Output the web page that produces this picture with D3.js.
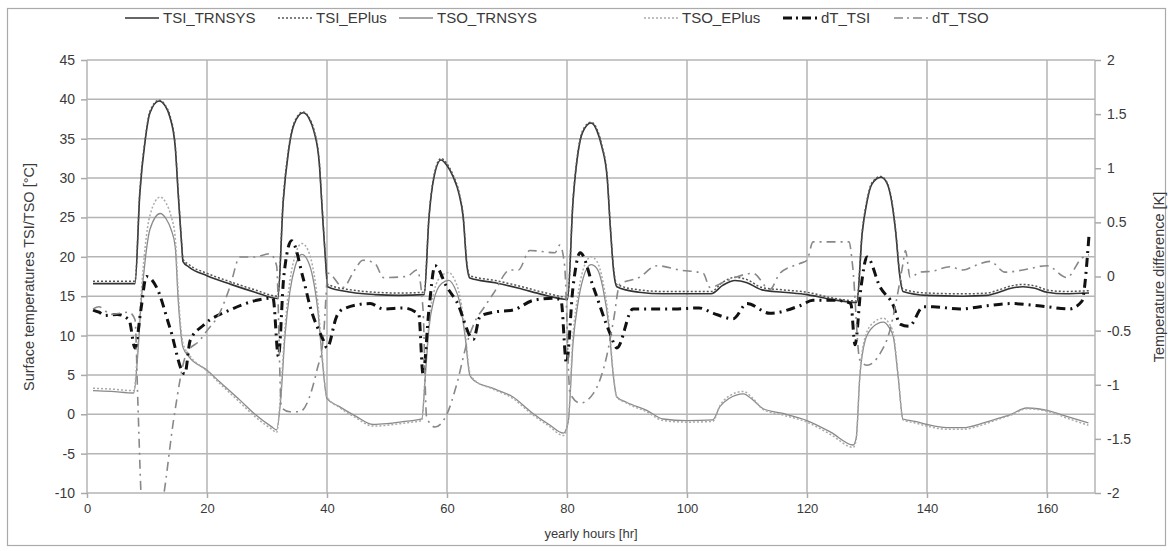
<!DOCTYPE html>
<html>

<head>
  <meta charset="utf8">
  <script src="https://d3js.org/d3.v7.min.js"></script>
  <style>
    body { margin: 0; background: #fff; }
    text { font-family: "Liberation Sans", Arial, sans-serif; fill: #3a3a3a; }
    .tick text { font-size: 14px; }
    .xaxis .tick text { font-size: 13px; }
    .axis path { display: none; }
    .axis line { stroke: #aaa; stroke-width: 1.5; }
    .grid line { stroke: #b5b5b5; stroke-width: 1.5; }
    .title { font-size: 14.5px; text-anchor: middle; }
    .xtitle { font-size: 13px; text-anchor: middle; }
    .legend text { font-size: 15px; }
  </style>
</head>

<body>
  <svg id="chart" width="1168" height="551"></svg>
  <script>
    var chart = d3.select('#chart');

    // hours on x, left axis in °C, right axis in K
    var xTicks = [0, 20, 40, 60, 80, 100, 120, 140, 160];
    var leftTicks = [-10, -5, 0, 5, 10, 15, 20, 25, 30, 35, 40, 45];
    var rightTicks = [-2, -1.5, -1, -0.5, 0, 0.5, 1, 1.5, 2];

    var tsiTrnsys = [[1,16.6],[4,16.6],[8,16.6],[8.8,28],[9.7,34.8],[10.5,38.3],[12,39.8],[13,39.2],[13.8,37.8],[14.7,34],[15.2,28],[15.8,21.3],[16,19.4],[17,18.7],[20,17.6],[24,16.5],[28,15.5],[31.8,14.7],
      [32.7,27],[33.6,33.5],[34.5,36.8],[36,38.3],[37,37.6],[37.8,36],[38.7,32],[39.2,26],[39.8,19],[40.1,16.2],[44,15.5],[48,15.2],[52,15.1],[56.2,15.2],
      [57,25],[57.8,30],[59,32.3],[60,31.6],[61,30.2],[62,28],[62.7,25],[63.3,19],[63.8,17.3],[68,16.7],[72,16],[76,15.2],[80.1,14.6],
      [81,27],[81.8,33],[82.6,35.8],[84,37],[85,36],[85.8,34],[86.7,30],[87.2,24],[87.8,18],[88.3,16.2],[92,15.5],[96,15.3],[104,15.3],[106,16.4],[108,17],[110,16.7],[112.5,15.8],[116,15.5],[120,15.2],[124,14.6],[128.3,14.2],
      [129.2,23],[130,27],[130.8,29.2],[132.3,30.1],[133.3,29.4],[134,27.5],[134.8,23],[135.4,18],[136,15.6],[140,15.1],[146,15],[150,15.1],[152,15.5],[154,16],[156,16.2],[158,16],[160,15.5],[163,15.3],[167,15.4]];
    var tsiEplus = [[1,16.9],[4,16.9],[8,16.9],[8.8,28.3],[9.7,35],[10.5,38.5],[12,39.9],[13,39.3],[13.8,38],[14.7,34.2],[15.2,28.3],[15.8,21.5],[16,19.7],[17,19],[20,17.9],[24,16.8],[28,15.8],[31.8,15],
      [32.7,27.3],[33.6,33.7],[34.5,37],[36,38.4],[37,37.7],[37.8,36.2],[38.7,32.2],[39.2,26.2],[39.8,19.3],[40.1,16.5],[44,15.8],[48,15.5],[52,15.4],[56.2,15.5],
      [57,25.2],[57.8,30.2],[59,32.5],[60,31.8],[61,30.4],[62,28.2],[62.7,25.2],[63.3,19.3],[63.8,17.6],[68,17],[72,16.3],[76,15.5],[80.1,14.9],
      [81,27.2],[81.8,33.2],[82.6,36],[84,37.1],[85,36.2],[85.8,34.2],[86.7,30.2],[87.2,24.2],[87.8,18.3],[88.3,16.5],[92,15.8],[96,15.6],[104,15.6],[106,16.8],[108,17.4],[110,17.1],[112.5,16.1],[116,15.8],[120,15.5],[124,14.8],[128.3,14.4],
      [129.2,23.2],[130,27.2],[130.8,29.4],[132.3,30.2],[133.3,29.5],[134,27.7],[134.8,23.2],[135.4,18.2],[136,15.9],[140,15.4],[146,15.3],[150,15.4],[152,15.8],[154,16.3],[156,16.5],[158,16.3],[160,15.8],[163,15.6],[167,15.7]];
    var tsoTrnsys = [[1,3],[4,2.9],[7.8,2.7],[8.5,8],[9,14],[9.7,19.6],[10.5,23.5],[12.2,25.5],[13.2,24.8],[14,23.5],[14.7,21.3],[15.2,14.5],[16,8.5],[17,7.3],[20,5.6],[22,4.2],[25.5,1.8],[28,0],[30.8,-1.6],[31.6,-2],
      [32.3,2],[33,10],[33.8,15.5],[34.7,18.8],[35.8,20.3],[36.8,19.5],[37.6,17.5],[38.5,13],[39.2,7],[40,2],[42,1],[44.7,-0.2],[47.7,-1.3],[50,-1.2],[53,-0.9],[55.8,-0.6],
      [56.4,5],[57,11],[57.8,14.5],[59.1,16.6],[60.3,17],[61.2,16.2],[62.2,14],[63,10],[63.8,5],[64.5,4.3],[68,3.2],[71,2.2],[74,0.3],[77,-1.3],[79.4,-2.4],
      [80.2,-1],[81,9],[81.8,14],[82.7,17.3],[84,19],[85,18.5],[86,16],[87,11],[87.7,5],[88.3,2.2],[90,1.5],[93.3,0.5],[96,-0.6],[100,-0.8],[104.3,-0.7],
      [105.5,1],[107,2],[109.4,2.6],[111,1.8],[112.7,0.7],[116,0.1],[120,-0.8],[124,-2.3],[127.7,-3.9],[128.2,-3],
      [128.8,4.7],[129.7,9.4],[131,11.1],[132.7,11.7],[133.7,11],[134.4,9.8],[135.2,4.7],[136,-0.6],[138,-0.9],[140,-1.3],[143.3,-1.7],[146,-1.7],[149.4,-1.1],[152,-0.5],[154,0],[156.6,0.8],[158.5,0.7],[160.5,0.4],[163,-0.2],[166.9,-1.1]];
    var tsoEplus = [[1,3.3],[4,3.2],[7.8,3],[8.5,9],[9,15],[9.7,21.3],[10.5,25.3],[12.2,27.6],[13.2,26.8],[14,25.2],[14.7,22.5],[15.2,15.5],[16,9],[17,7.6],[20,5.5],[22,4],[25.5,1.5],[28,-0.3],[30.8,-1.9],[31.6,-2.3],
      [32.3,3],[33,11],[33.8,16.8],[34.7,20.2],[35.8,21.7],[36.8,20.9],[37.6,18.8],[38.5,14],[39.2,7.5],[40,2.2],[42,0.9],[44.7,-0.4],[47.7,-1.5],[50,-1.4],[53,-1.1],[55.8,-0.8],
      [56.4,5.5],[57,11.8],[57.8,15.5],[59.1,17.6],[60.3,18],[61.2,17.2],[62.2,14.8],[63,10.6],[63.8,5.3],[64.5,4.4],[68,3.1],[71,2],[74,0.1],[77,-1.5],[79.4,-2.7],
      [80.2,-0.8],[81,10],[81.8,15],[82.7,18.4],[84,20],[85,19.4],[86,16.8],[87,11.6],[87.7,5.3],[88.3,2.2],[90,1.4],[93.3,0.3],[96,-0.8],[100,-1],[104.3,-0.9],
      [105.5,1.1],[107,2.3],[109.4,2.9],[111,2],[112.7,0.6],[116,-0.1],[120,-1],[124,-2.6],[127.7,-4.2],[128.2,-3.2],
      [128.8,5],[129.7,9.8],[131,11.6],[132.7,12.2],[133.7,11.5],[134.4,10.2],[135.2,4.9],[136,-0.7],[138,-1.1],[140,-1.5],[143.3,-1.9],[146,-1.9],[149.4,-1.3],[152,-0.6],[154,-0.1],[156.6,0.7],[158.5,0.6],[160.5,0.3],[163,-0.4],[166.9,-1.4]];
    var dtTsi = [[1,-0.31],[2,-0.33],[3,-0.36],[5,-0.35],[7,-0.4],[8,-0.66],[9,-0.3],[9.9,0],[11.6,-0.1],[13.8,-0.47],[16.3,-0.9],[17.2,-0.59],[19.4,-0.45],[23.8,-0.31],[28.3,-0.22],[31,-0.2],
      [31.9,-0.74],[32.8,0],[34.1,0.33],[36,-0.01],[37.2,-0.28],[39.4,-0.59],[40,-0.66],[41.6,-0.37],[42.7,-0.3],[47.2,-0.25],[49.4,-0.3],[52.7,-0.29],[55.3,-0.35],
      [56,-0.9],[57,-0.3],[58,0.1],[60,-0.1],[61.6,-0.23],[64.4,-0.58],[65.5,-0.37],[67.7,-0.33],[71,-0.31],[74.4,-0.22],[77.7,-0.2],[79,-0.22],
      [79.9,-0.8],[81,-0.1],[82.2,0.22],[84.4,-0.1],[87.2,-0.53],[88.3,-0.66],[91,-0.3],[98,-0.3],[102,-0.29],[104.4,-0.34],[107.7,-0.39],[110,-0.25],[113.8,-0.34],[118.8,-0.27],[121,-0.22],[124.8,-0.22],[127.3,-0.25],
      [128,-0.63],[129,-0.1],[130,0.18],[132.2,-0.1],[134.4,-0.27],[135.5,-0.44],[137,-0.46],[139.4,-0.28],[141,-0.28],[145.5,-0.3],[150,-0.27],[154,-0.25],[160,-0.28],[163.7,-0.3],[165.8,-0.23],[167,0.38]];
    var dtTso = [[1,-0.3],[2,-0.28],[4,-0.35],[7,-0.33],[8,-0.4],[8.5,-1.2],[9.1,-2.1],[10.5,-2.6],[12.7,-2.05],[14.5,-1.3],[16.6,-0.71],[18.8,-0.59],[20,-0.5],[22,-0.35],[23.8,-0.1],[25.5,0.18],[27.8,0.18],[30.5,0.21],[31.6,0.1],
      [32.4,-1.21],[33.8,-1.25],[35.4,-1.25],[38.3,-0.87],[39.4,-0.56],[40.2,0.03],[42.7,-0.1],[44.5,0.05],[46,0.15],[48,0.12],[49.4,-0.01],[53.3,0],[55,0.06],
      [56,-0.3],[56.6,-1.3],[58,-1.39],[60,-1.27],[61.6,-1],[63.3,-0.62],[64.9,-0.39],[66,-0.3],[67.7,-0.16],[70.5,0.06],[71.9,0.06],[73.8,0.24],[78,0.22],[78.8,0.29],[79.6,0.1],
      [80.5,-1.08],[82.2,-1.17],[84.4,-1.08],[86.6,-0.74],[87.8,-0.39],[88.8,-0.07],[92,-0.01],[95,0.1],[98.8,0.06],[102.7,0.03],[103.8,-0.1],[106.6,-0.04],[111,0.03],[113.8,-0.12],[115.5,0.03],[118.8,0.12],[120,0.15],[121,0.32],[124.4,0.32],[127,0.32],[127.6,0.1],
      [128.8,-0.77],[130,-0.82],[132.2,-0.71],[133.8,-0.5],[134.9,-0.22],[136,0.12],[136.4,0.24],[137.2,-0.01],[138.8,0.04],[141,0.05],[143.8,0.09],[146,0.06],[148,0.1],[150.5,0.14],[153,0.04],[156,0.06],[160,0.1],[163.3,-0.01],[165.8,0.17],[167,0.2]];

    var series = [
      { name: 'TSI_TRNSYS', data: tsiTrnsys, axis: 'left', color: '#333', width: 1.6, dash: null, lx: 125 },
      { name: 'TSI_EPlus', data: tsiEplus, axis: 'left', color: '#555', width: 1.5, dash: '2,2', lx: 278 },
      { name: 'TSO_TRNSYS', data: tsoTrnsys, axis: 'left', color: '#8a8a8a', width: 1.3, dash: null, lx: 399 },
      { name: 'TSO_EPlus', data: tsoEplus, axis: 'left', color: '#aaa', width: 1.5, dash: '2,2', lx: 644 },
      { name: 'dT_TSI', data: dtTsi, axis: 'right', color: '#111', width: 3, dash: '9,5,2,5', lx: 783 },
      { name: 'dT_TSO', data: dtTso, axis: 'right', color: '#888', width: 1.6, dash: '9,5,2,5', lx: 894 }
    ];

    var plotL = 87, plotR = 1095, plotT = 60, plotB = 493;

    var x = d3.scaleLinear().domain([0, 168]).range([plotL, plotR]);
    var yL = d3.scaleLinear().domain([-10, 45]).range([plotB, plotT]);
    var yR = d3.scaleLinear().domain([-2, 2]).range([plotB, plotT]);
    var plain = (d) => String(d);

    // outer frame
    chart.append('rect')
      .attr('x', 7.5).attr('y', 8.5).attr('width', 1158).attr('height', 537)
      .attr('fill', 'none').attr('stroke', '#aaa').attr('stroke-width', 1.2);

    var grid = chart.append('g').attr('class', 'grid');
    grid.selectAll('.h').data(leftTicks).enter().append('line')
      .attr('x1', plotL).attr('x2', plotR)
      .attr('y1', (d) => yL(d)).attr('y2', (d) => yL(d));
    grid.selectAll('.v').data(xTicks).enter().append('line')
      .attr('x1', (d) => x(d)).attr('x2', (d) => x(d))
      .attr('y1', plotT).attr('y2', plotB);
    grid.append('line').attr('x1', plotR).attr('x2', plotR).attr('y1', plotT).attr('y2', plotB);

    chart.append('g').attr('class', 'axis')
      .attr('transform', 'translate(' + plotL + ',0)')
      .call(d3.axisLeft(yL).tickValues(leftTicks).tickFormat(plain).tickSize(6).tickPadding(6));
    chart.append('g').attr('class', 'axis')
      .attr('transform', 'translate(' + plotR + ',0)')
      .call(d3.axisRight(yR).tickValues(rightTicks).tickFormat(plain).tickSize(6).tickPadding(6));
    chart.append('g').attr('class', 'axis xaxis')
      .attr('transform', 'translate(0,' + plotB + ')')
      .call(d3.axisBottom(x).tickValues(xTicks).tickFormat(plain).tickSize(5).tickPadding(6));

    chart.append('clipPath').attr('id', 'plot')
      .append('rect').attr('x', plotL).attr('y', plotT).attr('width', plotR - plotL).attr('height', plotB - plotT);

    var plot = chart.append('g').attr('clip-path', 'url(#plot)');
    series.forEach((s) => {
      var y = s.axis === 'left' ? yL : yR;
      var line = d3.line()
        .x((d) => x(d[0]))
        .y((d) => y(d[1]))
        .curve(d3.curveMonotoneX);
      plot.append('path')
        .datum(s.data)
        .attr('fill', 'none')
        .attr('stroke', s.color)
        .attr('stroke-width', s.width)
        .attr('stroke-dasharray', s.dash)
        .attr('d', line);
    });

    var legend = chart.append('g').attr('class', 'legend');
    var item = legend.selectAll('g').data(series).enter().append('g')
      .attr('transform', (d) => 'translate(' + d.lx + ',18)');
    item.append('line')
      .attr('x1', 0).attr('x2', 34)
      .attr('stroke', (d) => d.color)
      .attr('stroke-width', (d) => d.width)
      .attr('stroke-dasharray', (d) => d.dash ? (d.dash === '2,2' ? '2,2' : '9,4,2,4') : null);
    item.append('text')
      .attr('x', 38).attr('dy', '0.35em')
      .text((d) => d.name);

    chart.append('text').attr('class', 'title')
      .attr('transform', 'translate(34,277) rotate(-90)')
      .text('Surface temperatures TSI/TSO [°C]');
    chart.append('text').attr('class', 'title')
      .attr('transform', 'translate(1164,277) rotate(-90)')
      .text('Temperature difference [K]');
    chart.append('text').attr('class', 'xtitle')
      .attr('x', 591).attr('y', 538)
      .text('yearly hours [hr]');
  </script>
</body>

</html>
